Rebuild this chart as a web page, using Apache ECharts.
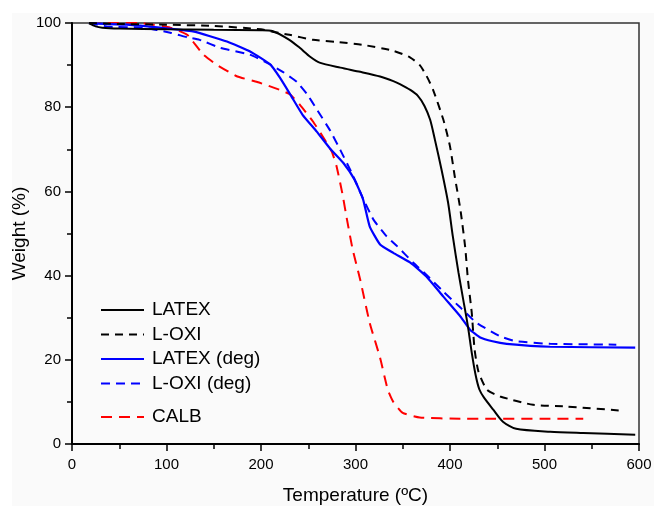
<!DOCTYPE html>
<html>
<head>
<meta charset="utf-8">
<script src="https://cdn.jsdelivr.net/npm/echarts@6/dist/echarts.min.js"></script>
<style>html,body{margin:0;padding:0;background:#fff}#c{width:654px;height:506px}</style>
</head>
<body>
<div id="c"></div>
<script>
const xTicks = [0, 100, 200, 300, 400, 500, 600];
const yTicks = [0, 20, 40, 60, 80, 100];

const latexT = [18,25,32,50,100,150,200,212,230,241,252,262,284,305,326,340,347,358,366,373,379,384,391,398,403,409,414,419,423,427,431,436,446,456,470,506,541,596];
const latexW = [99.9,99.2,98.9,98.7,98.5,98.4,98.3,98.1,96.0,94.1,92.0,90.6,89.4,88.4,87.3,86.2,85.5,84.1,82.7,80.3,77.0,72.3,65.2,57.3,49.3,40.7,34.3,27.9,21.7,16.5,13.0,11.0,8.1,5.3,3.6,2.9,2.6,2.2];

const loxiT = [18,40,100,150,200,215,230,255,280,308,340,358,368,375,382,393,400,405,411,416,419,423,426,430,439,453,488,523,583];
const loxiW = [100,99.8,99.6,99.3,98.5,97.8,97.2,96.0,95.5,94.8,93.4,91.8,90.0,87.5,84.2,77.0,70.7,63.6,55.7,46.9,39.0,31.2,22.5,17.3,12.9,11.3,9.3,8.9,7.9];

const latexDegT = [18,22,58,93,128,164,188,210,220,231,244,259,273,287,299,308,315,326,340,358,375,393,411,421,432,445,460,506,596];
const latexDegW = [100,99.9,99.6,98.9,98.0,95.6,93.3,90.1,87.0,83.0,78.2,74.2,70.2,66.8,62.8,58.1,51.7,47.4,45.4,43.1,39.8,35.0,30.3,27.2,25.3,24.4,23.8,23.1,22.9];

const loxiDegT = [18,22,40,75,104,122,135,157,188,210,223,238,249,259,273,284,296,307,319,333,344,361,375,393,411,428,453,470,506,576];
const loxiDegW = [100,99.8,99.1,98.9,97.7,96.6,96.0,94.1,92.5,90.1,88.4,86.0,83.0,79.5,74.5,69.8,64.4,58.8,53.3,49.3,47.0,43.1,40.2,36.2,32.4,28.8,25.6,24.4,23.8,23.6];

const calbT = [19,26,75,104,122,128,139,153,175,196,220,231,241,255,266,275,280,286,291,297,305,315,326,334,340,350,368,411,541];
const calbW = [100.3,100.4,99.9,98.9,97.2,95.6,92.5,90.1,87.3,86.0,84.1,83.0,80.6,76.6,72.8,69.4,65.9,59.6,53.3,46.2,39.0,28.8,20.5,13.0,10.0,7.4,6.3,6.0,6.0];

const names = ['LATEX', 'L-OXI', 'LATEX (deg)', 'L-OXI (deg)', 'CALB'];

function pairs(t, w) { return t.map((v, i) => [v, w[i]]); }

const font = 'Liberation Sans, Arial, sans-serif';
const legText = {fontFamily: font, fontSize: 19, color: '#000', lineHeight: 20, padding: [0, 0, 0, 3]};

const chart = echarts.init(document.getElementById('c'), null, {renderer: 'canvas'});
chart.setOption({
  backgroundColor: '#ffffff',
  animation: false,
  graphic: [{
    type: 'rect', left: 12, top: 13, z: -10,
    shape: {width: 642, height: 493},
    style: {fill: '#fafafa'}, silent: true
  }],
  grid: {left: 72, right: 15, top: 23, bottom: 62, containLabel: false, outerBoundsMode: 'none',
         show: true, borderColor: '#333', borderWidth: 1.5, backgroundColor: 'transparent'},
  legend: [{
    data: names.slice(0, 4), orient: 'vertical', left: 95, top: 295,
    itemWidth: 43, itemHeight: 14, itemGap: 4.5,
    itemStyle: {opacity: 0},
    textStyle: legText
  }, {
    data: [names[4]], orient: 'vertical', left: 95, top: 402,
    itemWidth: 43, itemHeight: 14,
    itemStyle: {opacity: 0},
    textStyle: legText
  }],
  xAxis: {
    type: 'value', min: xTicks[0], max: xTicks[xTicks.length - 1], interval: 100,
    name: 'Temperature (ºC)', nameLocation: 'middle', nameGap: 42,
    nameTextStyle: {fontFamily: font, fontSize: 19, color: '#000'},
    axisLine: {show: true, onZero: false, lineStyle: {color: '#000', width: 2}},
    axisTick: {show: true, inside: false, length: 7, lineStyle: {color: '#000', width: 1.5}},
    minorTick: {show: true, splitNumber: 2, length: 5, lineStyle: {color: '#000', width: 1.5}},
    axisLabel: {fontFamily: font, fontSize: 15, color: '#000', margin: 13},
    splitLine: {show: false}
  },
  yAxis: {
    type: 'value', min: yTicks[0], max: yTicks[yTicks.length - 1], interval: 20,
    name: 'Weight (%)', nameLocation: 'middle', nameGap: 43, nameMoveOverlap: false,
    nameTextStyle: {fontFamily: font, fontSize: 19, color: '#000'},
    axisLine: {show: true, onZero: false, lineStyle: {color: '#000', width: 2}},
    axisTick: {show: true, inside: false, length: 7, lineStyle: {color: '#000', width: 1.5}},
    minorTick: {show: true, splitNumber: 2, length: 5, lineStyle: {color: '#000', width: 1.5}},
    axisLabel: {fontFamily: font, fontSize: 15, color: '#000', margin: 11},
    splitLine: {show: false}
  },
  series: [
    {name: names[0], type: 'line', data: pairs(latexT, latexW), smooth: 0.25, symbol: 'none', z: 5,
     lineStyle: {color: '#000', width: 2, type: 'solid'}, itemStyle: {color: '#000'}},
    {name: names[1], type: 'line', data: pairs(loxiT, loxiW), smooth: 0.2, symbol: 'none', z: 4,
     lineStyle: {color: '#000', width: 2, type: [8, 6]}, itemStyle: {color: '#000'}},
    {name: names[2], type: 'line', data: pairs(latexDegT, latexDegW), smooth: 0.15, symbol: 'none', z: 3,
     lineStyle: {color: '#0000ff', width: 2.2, type: 'solid'}, itemStyle: {color: '#0000ff'}},
    {name: names[3], type: 'line', data: pairs(loxiDegT, loxiDegW), smooth: 0.15, symbol: 'none', z: 3,
     lineStyle: {color: '#0000ff', width: 2, type: [9, 6]}, itemStyle: {color: '#0000ff'}},
    {name: names[4], type: 'line', data: pairs(calbT, calbW), smooth: 0.15, symbol: 'none', z: 2,
     lineStyle: {color: '#ff0000', width: 2, type: [11, 7]}, itemStyle: {color: '#ff0000'}}
  ]
});
</script>
</body>
</html>
